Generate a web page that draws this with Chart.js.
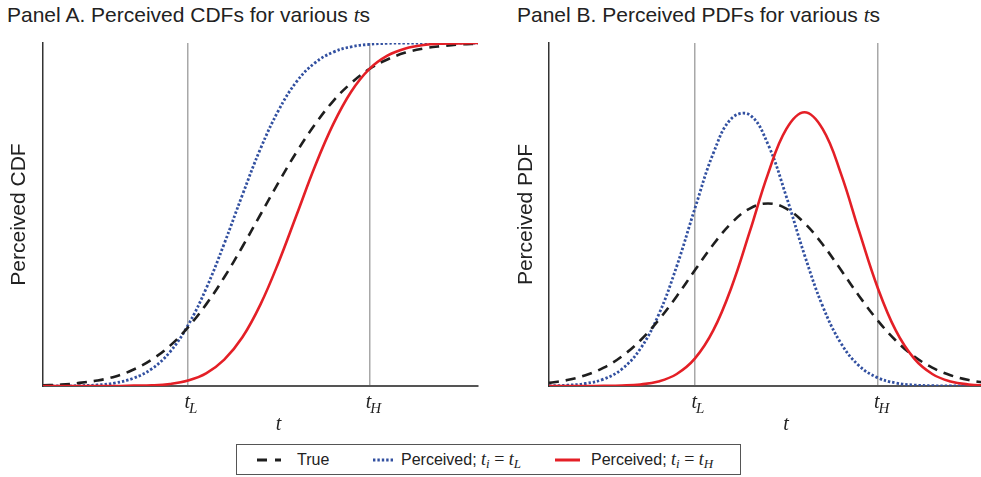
<!DOCTYPE html>
<html>
<head>
<meta charset="utf-8">
<script src="https://cdn.jsdelivr.net/npm/chart.js@4"></script>
<style>
    html, body { margin: 0; padding: 0; background: #fff; overflow: hidden; }
    body { width: 981px; height: 477px; position: relative; font-family: "Liberation Sans", Arial, sans-serif; color: #222; }
    .panel-title { position: absolute; top: 3px; font-size: 21px; line-height: 24px; white-space: nowrap; }
    .panel-title i { font-family: "Liberation Serif", serif; }
    canvas { position: absolute; top: 30px; }
    #legend { position: absolute; left: 236px; top: 444px; width: 505px; height: 31px; border: 1.5px solid #555; box-sizing: border-box; }
    .item { position: absolute; top: 0; height: 29px; display: flex; align-items: center; font-size: 16px; white-space: nowrap; }
    .item svg { display: block; }
    .math { font-family: "Liberation Serif", serif; font-size: 18px; }
    .math sub { font-size: 13px; vertical-align: -3px; line-height: 0; }
</style>
</head>
<body>
<div class="panel-title" style="left:7px">Panel A. Perceived CDFs for various <i>t</i>s</div>
<div class="panel-title" style="left:517px">Panel B. Perceived PDFs for various <i>t</i>s</div>
<canvas id="cdfChart" width="490" height="410" style="left:0px"></canvas>
<canvas id="pdfChart" width="500" height="410" style="left:500px"></canvas>
<div id="legend">
    <div class="item" style="left:20px">
        <svg width="24" height="8"><line x1="0" y1="4" x2="24" y2="4" stroke="#1e1e1e" stroke-width="3" stroke-dasharray="10 8"/></svg>
        <span style="margin-left:16px">True</span>
    </div>
    <div class="item" style="left:136px">
        <svg width="20" height="8"><line x1="0" y1="4" x2="20" y2="4" stroke="#3250a0" stroke-width="2.8" stroke-dasharray="2.4 2"/></svg>
        <span style="margin-left:8px">Perceived; <span class="math"><i>t<sub>i</sub></i> = <i>t<sub>L</sub></i></span></span>
    </div>
    <div class="item" style="left:318px">
        <svg width="25" height="8"><line x1="0" y1="4" x2="25" y2="4" stroke="#e41f26" stroke-width="3"/></svg>
        <span style="margin-left:11px">Perceived; <span class="math"><i>t<sub>i</sub></i> = <i>t<sub>H</sub></i></span></span>
    </div>
</div>
<script>
// t axis (arbitrary units), marker positions t_L and t_H
const tValues = [0, 0.5, 1, 1.5, 2, 2.5, 3, 3.5, 4, 4.5, 5, 5.5, 6, 6.5, 7, 7.5, 8, 8.5, 9, 9.5, 10, 10.5, 11, 11.5, 12];
const markerTicks = [4, 9];
const markerSubs = ['L', 'H'];

// Panel A: perceived CDFs
const cdfTrue = [0.002, 0.004, 0.009, 0.016, 0.028, 0.048, 0.077, 0.117, 0.171, 0.238, 0.317, 0.406, 0.500, 0.594, 0.683, 0.762, 0.830, 0.883, 0.924, 0.952, 0.972, 0.984, 0.991, 0.996, 0.998];
const cdfLow = [0.000, 0.000, 0.001, 0.003, 0.009, 0.023, 0.050, 0.099, 0.177, 0.284, 0.415, 0.557, 0.692, 0.804, 0.888, 0.942, 0.973, 0.989, 0.996, 0.999, 1.000, 1.000, 1.000, 1.000, 1.000];
const cdfHigh = [0.000, 0.000, 0.000, 0.000, 0.000, 0.001, 0.002, 0.006, 0.016, 0.037, 0.077, 0.142, 0.238, 0.361, 0.500, 0.640, 0.762, 0.858, 0.924, 0.963, 0.984, 0.994, 0.998, 0.999, 1.000];

// Panel B: perceived PDFs
const pdfTrue = [0.0032, 0.0062, 0.0112, 0.0191, 0.0310, 0.0474, 0.0685, 0.0935, 0.1207, 0.1472, 0.1696, 0.1847, 0.1900, 0.1847, 0.1696, 0.1472, 0.1207, 0.0935, 0.0685, 0.0474, 0.0310, 0.0191, 0.0112, 0.0062, 0.0032];
const pdfLow = [0.0002, 0.0008, 0.0026, 0.0072, 0.0177, 0.0386, 0.0739, 0.1247, 0.1851, 0.2420, 0.2785, 0.2821, 0.2515, 0.1974, 0.1364, 0.0829, 0.0444, 0.0209, 0.0087, 0.0032, 0.0010, 0.0003, 0.0001, 0.0000, 0.0000];
const pdfHigh = [0.0000, 0.0000, 0.0000, 0.0001, 0.0005, 0.0016, 0.0048, 0.0125, 0.0287, 0.0578, 0.1028, 0.1606, 0.2208, 0.2674, 0.2850, 0.2674, 0.2208, 0.1606, 0.1028, 0.0578, 0.0287, 0.0125, 0.0048, 0.0016, 0.0005];

const pair = (ys) => tValues.map((t, i) => ({ x: t, y: ys[i] }));

// t_L / t_H labels with subscripts, plus the italic "t" axis title
const tickLabelPlugin = {
    id: 'tickLabels',
    afterDraw(chart) {
        const { ctx, chartArea } = chart;
        const x = chart.scales.x;
        ctx.save();
        ctx.fillStyle = '#222';
        ctx.textBaseline = 'alphabetic';
        markerTicks.forEach((v, i) => {
            const px = x.getPixelForValue(v);
            ctx.font = 'italic 20px "Liberation Serif"';
            ctx.textAlign = 'right';
            ctx.fillText('t', px + 2, chartArea.bottom + 22);
            ctx.font = 'italic 15px "Liberation Serif"';
            ctx.textAlign = 'left';
            ctx.fillText(markerSubs[i], px + 1, chartArea.bottom + 27);
        });
        ctx.font = 'italic 20px "Liberation Serif"';
        ctx.textAlign = 'center';
        ctx.fillText('t', (chartArea.left + chartArea.right) / 2 + 18, chartArea.bottom + 44);
        ctx.restore();
    }
};

function makeChart(id, series, yMax, yTitle, yWidth, titlePad, padRight) {
    const ctx = document.getElementById(id).getContext('2d');
    return new Chart(ctx, {
        type: 'line',
        data: {
            datasets: [{
                label: 'Perceived; t_i = t_H',
                data: pair(series[2]),
                borderColor: '#e41f26',
                borderWidth: 2.6
            }, {
                label: 'True',
                data: pair(series[0]),
                borderColor: '#1e1e1e',
                borderWidth: 2.6,
                borderDash: [10, 7]
            }, {
                label: 'Perceived; t_i = t_L',
                data: pair(series[1]),
                borderColor: '#3250a0',
                borderWidth: 2.8,
                borderDash: [2.4, 2]
            }]
        },
        options: {
            responsive: false,
            animation: false,
            parsing: false,
            elements: { point: { radius: 0 }, line: { tension: 0.4, fill: false } },
            layout: { padding: { top: 13, right: padRight, left: 0, bottom: 0 } },
            scales: {
                x: {
                    type: 'linear',
                    min: 0,
                    max: 12,
                    afterBuildTicks: (s) => { s.ticks = markerTicks.map(v => ({ value: v })); },
                    afterFit: (s) => { s.height = 54; },
                    ticks: { display: false },
                    grid: { color: '#a8a8a8', lineWidth: 1.5, drawTicks: false },
                    border: { color: '#555', width: 2 }
                },
                y: {
                    min: 0,
                    max: yMax,
                    afterFit: (s) => { s.width = yWidth; },
                    ticks: { display: false },
                    grid: { display: false, drawTicks: false },
                    border: { color: '#333', width: 1.5 },
                    title: {
                        display: true,
                        text: yTitle,
                        color: '#222',
                        font: { family: '"Liberation Sans", Arial, sans-serif', size: 21 },
                        padding: { top: titlePad, bottom: 0 }
                    }
                }
            },
            plugins: { legend: { display: false }, tooltip: { enabled: false } }
        },
        plugins: [tickLabelPlugin]
    });
}

makeChart('cdfChart', [cdfTrue, cdfLow, cdfHigh], 1.0, 'Perceived CDF', 43, 7, 12);
makeChart('pdfChart', [pdfTrue, pdfLow, pdfHigh], 0.357, 'Perceived PDF', 49, 14, 13);
</script>
</body>
</html>
